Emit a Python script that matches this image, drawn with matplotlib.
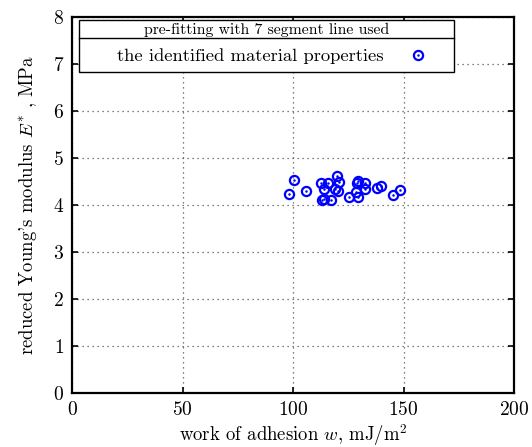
import matplotlib
matplotlib.use("Agg")
import matplotlib.pyplot as plt
from matplotlib.legend_handler import HandlerTuple
from matplotlib.lines import Line2D
from matplotlib.patches import Rectangle

plt.rcParams['font.family'] = ['cmr10', 'DejaVu Serif']
plt.rcParams['mathtext.fontset'] = 'cm'
plt.rcParams['axes.formatter.use_mathtext'] = True

w = [98.1, 100.3, 105.8, 112.4, 115.7, 114.1, 113.2, 113.9, 117.1, 119.7, 120.6, 118.9,
     120.4, 125.4, 129.5, 129.0, 132.6, 132.6, 128.4, 129.2, 138.2, 139.9, 145.2, 148.5]
E = [4.23, 4.54, 4.29, 4.47, 4.47, 4.33, 4.11, 4.13, 4.10, 4.61, 4.49, 4.33,
     4.29, 4.17, 4.52, 4.47, 4.47, 4.34, 4.28, 4.17, 4.36, 4.41, 4.22, 4.31]
xticks = [0, 50, 100, 150, 200]
yticks = [0, 1, 2, 3, 4, 5, 6, 7, 8]
legend_title = 'pre-fitting with 7 segment line used'
legend_label = 'the identified material properties'

fig = plt.figure(figsize=(5.32, 4.47), dpi=100)
ax = fig.add_axes([0.136, 0.121, 0.830, 0.841])

ring = dict(linestyle='none', marker='o', markersize=6.6, markerfacecolor='none',
            markeredgecolor='#0000ff', markeredgewidth=1.6)
dot = dict(linestyle='none', marker='o', markersize=1.8, markerfacecolor='#0000ff',
           markeredgecolor='#0000ff', markeredgewidth=0)
ax.plot(w, E, zorder=3, **ring)
ax.plot(w, E, zorder=4, **dot)

ax.set_xlim(0, 200)
ax.set_ylim(0, 8)
ax.set_xticks(xticks)
ax.set_yticks(yticks)
ax.grid(True, linestyle=(0, (1, 3)), color='#555555', linewidth=0.9)
ax.tick_params(direction='in', top=True, right=True, length=4, width=1.2, labelsize=14, pad=6)
for s in ax.spines.values():
    s.set_linewidth(1.6)

ax.set_xlabel(r'work of adhesion $w$, mJ/m$^2$', fontsize=13.5, labelpad=2)
ax.set_ylabel(r"reduced Young's modulus $E^{*}$ , MPa", fontsize=13.5, labelpad=10)

# legend box (title row + entry row)
bx0, by0, bw, bh = 0.0154, 0.853, 0.850, 0.138
ysep = 0.943
ax.add_patch(Rectangle((bx0, by0), bw, bh, transform=ax.transAxes, facecolor='white',
                       edgecolor='black', linewidth=1.0, zorder=5))
ax.add_line(Line2D([bx0, bx0 + bw], [ysep, ysep], transform=ax.transAxes,
                   color='black', linewidth=1.0, zorder=6))
ax.text(bx0 + bw / 2, (ysep + by0 + bh) / 2, legend_title, transform=ax.transAxes,
        ha='center', va='center', fontsize=11.3, zorder=7)

h1 = Line2D([], [], **ring)
h2 = Line2D([], [], **dot)
leg = ax.legend([(h1, h2)], [legend_label],
                handler_map={tuple: HandlerTuple(ndivide=1, pad=0)},
                fontsize=13.4, loc='center left', bbox_to_anchor=(0.1008, 0.896),
                borderaxespad=0, frameon=False, markerfirst=False,
                handlelength=1.0, handletextpad=1.38, borderpad=0)
leg.set_zorder(8)

fig.savefig('out.png', dpi=100)
